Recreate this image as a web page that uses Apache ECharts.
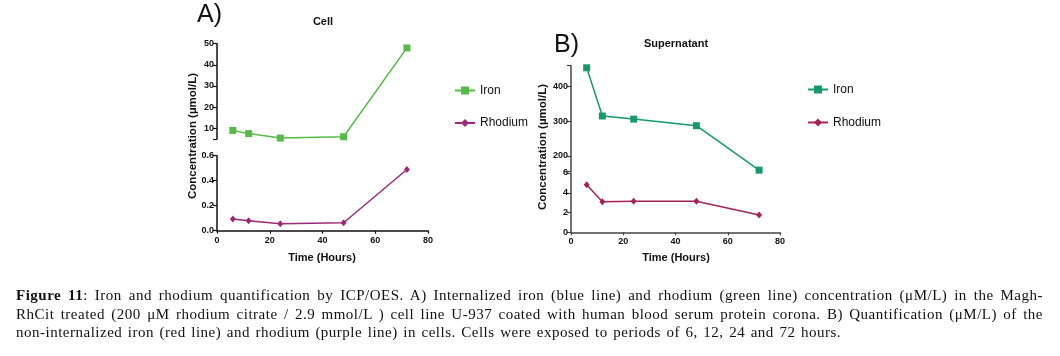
<!DOCTYPE html>
<html>
<head>
<meta charset="utf-8">
<script src="https://cdn.jsdelivr.net/npm/echarts@6/dist/echarts.min.js"></script>
<style>
  html, body { margin: 0; padding: 0; background: #fff; }
  #chart { position: absolute; left: 0; top: 0; width: 1060px; height: 356px; }
  #caption { position: absolute; left: 16px; top: 286px; width: 1027px;
    font-family: "Liberation Serif", "DejaVu Serif", serif; font-size: 15px; line-height: 18.5px; color: #111;
    letter-spacing: 0.5px; word-spacing: 1.3px; }
  #caption .j { text-align: justify; text-align-last: justify; white-space: nowrap; }
  #caption b { font-weight: bold; }
</style>
</head>
<body>
<div id="chart"></div>
<div id="caption">
  <div class="j"><b>Figure 11</b>: Iron and rhodium quantification by ICP/OES. A) Internalized iron (blue line) and rhodium (green line) concentration (μM/L) in the Magh-</div>
  <div class="j">RhCit treated (200 μM rhodium citrate / 2.9 mmol/L ) cell line U-937 coated with human blood serum protein corona. B) Quantification (μM/L) of the</div>
  <div>non-internalized iron (red line) and rhodium (purple line) in cells. Cells were exposed to periods of 6, 12, 24 and 72 hours.</div>
</div>
<script>
// ---- data ----
const hours = [6, 12, 24, 48, 72];
const cellIron = [9.0, 7.5, 5.4, 6.0, 48.0];
const cellRhodium = [0.094, 0.080, 0.056, 0.064, 0.49];
const supIron = [454, 315, 306, 287, 159];
const supRhodium = [4.8, 3.1, 3.15, 3.15, 1.75];
const xTicks = [0, 20, 40, 60, 80];
const cellIronTicks = [10, 20, 30, 40, 50];
const cellRhTicks = [0, 0.2, 0.4, 0.6];
const supIronTicks = [200, 300, 400];
const supRhTicks = [0, 2, 4, 6];
const seriesNames = ['Iron', 'Rhodium'];

const pairs = (ys) => hours.map((h, i) => [h, ys[i]]);

const colors = {
  cellIron: '#55bb47',
  cellRh: '#9b2a78',
  supIron: '#169a6b',
  supRh: '#a4245a'
};

const axisTextBase = { color: '#111', fontFamily: 'Liberation Sans, Arial', fontWeight: 'bold', fontSize: 9 };

function xAxis(gridIndex, show, lineColor) {
  return {
    type: 'value', gridIndex, min: 0, max: 80, interval: 20,
    show: show,
    axisLine: { show: show, lineStyle: { color: lineColor, width: 1.5 } },
    axisTick: { show: show, length: 3, lineStyle: { color: lineColor, width: 1.2 } },
    axisLabel: Object.assign({ show: show, margin: 5 }, axisTextBase),
    splitLine: { show: false }
  };
}

function yAxis(gridIndex, min, max, tickVals, labelVals, fmt, lineColor) {
  return {
    type: 'value', gridIndex, min, max,
    axisLine: { show: true, lineStyle: { color: lineColor, width: 1.5 } },
    axisTick: { show: true, length: 4, customValues: tickVals, lineStyle: { color: lineColor, width: 1.2 } },
    axisLabel: Object.assign({ show: true, margin: 3, customValues: labelVals, formatter: fmt }, axisTextBase),
    splitLine: { show: false }
  };
}

const chart = echarts.init(document.getElementById('chart'), null, { renderer: 'canvas' });

const legendText = { fontFamily: 'Liberation Sans, Arial', fontSize: 12, color: '#111' };

const option = {
  animation: false,
  backgroundColor: '#fff',
  grid: [
    { left: 217, top: 43.7, width: 211, height: 95.2 },
    { left: 217, top: 155.7, width: 211, height: 75 },
    { left: 571, top: 65.7, width: 209, height: 105.8 },
    { left: 571, top: 173, width: 209, height: 59.3 }
  ],
  xAxis: [
    xAxis(0, false, '#111'),
    xAxis(1, true, '#111'),
    xAxis(2, false, '#444'),
    xAxis(3, true, '#444')
  ],
  yAxis: [
    yAxis(0, 5, 50, [5].concat(cellIronTicks), cellIronTicks, v => String(v), '#111'),
    yAxis(1, 0, 0.6, cellRhTicks, cellRhTicks, v => v.toFixed(1), '#111'),
    yAxis(2, 155, 460, [155].concat(supIronTicks, [460]), supIronTicks, v => String(v), '#444'),
    yAxis(3, 0, 6, supRhTicks, supRhTicks, v => String(v), '#444')
  ],
  legend: [
    {
      data: ['Iron', 'Rhodium'], left: 449, top: 79.5, orient: 'vertical',
      itemWidth: 20, itemHeight: 10, itemGap: 20.5,
      textStyle: legendText
    },
    {
      data: ['Iron B', 'Rhodium B'], left: 802, top: 78.5, orient: 'vertical',
      itemWidth: 20, itemHeight: 10, itemGap: 21,
      formatter: n => n.replace(' B', ''),
      textStyle: legendText
    }
  ],
  series: [
    { name: seriesNames[0], type: 'line', xAxisIndex: 0, yAxisIndex: 0, data: pairs(cellIron),
      symbol: 'rect', symbolSize: 7, color: colors.cellIron, lineStyle: { width: 1.5 } },
    { name: seriesNames[1], type: 'line', xAxisIndex: 1, yAxisIndex: 1, data: pairs(cellRhodium),
      symbol: 'diamond', symbolSize: [6, 7], color: colors.cellRh, lineStyle: { width: 1.5 } },
    { name: seriesNames[0] + ' B', type: 'line', xAxisIndex: 2, yAxisIndex: 2, data: pairs(supIron),
      symbol: 'rect', symbolSize: 7, color: colors.supIron, lineStyle: { width: 1.5 } },
    { name: seriesNames[1] + ' B', type: 'line', xAxisIndex: 3, yAxisIndex: 3, data: pairs(supRhodium),
      symbol: 'diamond', symbolSize: [6, 7], color: colors.supRh, lineStyle: { width: 1.5 } }
  ],
  graphic: [
    { type: 'text', left: 197, top: 3, style: { text: 'A)', fontFamily: 'Liberation Sans, Arial', fontSize: 25, fill: '#111' } },
    { type: 'text', left: 554, top: 33, style: { text: 'B)', fontFamily: 'Liberation Sans, Arial', fontSize: 25, fill: '#111' } },
    { type: 'text', x: 323, y: 22, style: { text: 'Cell', align: 'center', verticalAlign: 'middle', fontFamily: 'Liberation Sans, Arial', fontWeight: 'bold', fontSize: 11, fill: '#111' } },
    { type: 'text', x: 676, y: 44, style: { text: 'Supernatant', align: 'center', verticalAlign: 'middle', fontFamily: 'Liberation Sans, Arial', fontWeight: 'bold', fontSize: 11, fill: '#111' } },
    { type: 'text', x: 322, y: 258, style: { text: 'Time (Hours)', align: 'center', verticalAlign: 'middle', fontFamily: 'Liberation Sans, Arial', fontWeight: 'bold', fontSize: 11, fill: '#111' } },
    { type: 'text', x: 676, y: 258, style: { text: 'Time (Hours)', align: 'center', verticalAlign: 'middle', fontFamily: 'Liberation Sans, Arial', fontWeight: 'bold', fontSize: 11, fill: '#111' } },
    { type: 'text', x: 193, y: 136, rotation: Math.PI / 2, style: { text: 'Concentration (µmol/L)', align: 'center', verticalAlign: 'middle', fontFamily: 'Liberation Sans, Arial', fontWeight: 'bold', fontSize: 11.5, fill: '#111' } },
    { type: 'text', x: 543, y: 147, rotation: Math.PI / 2, style: { text: 'Concentration (µmol/L)', align: 'center', verticalAlign: 'middle', fontFamily: 'Liberation Sans, Arial', fontWeight: 'bold', fontSize: 11.5, fill: '#111' } }
  ]
};
chart.setOption(option);
</script>
</body>
</html>
